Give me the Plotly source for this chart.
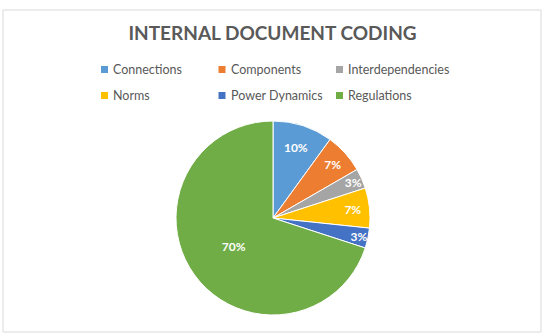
import plotly.graph_objects as go

labels = ["Connections", "Components", "Interdependencies", "Norms", "Power Dynamics", "Regulations"]
counts = [3, 2, 1, 2, 1, 21]
colors = ["#5B9BD5", "#ED7D31", "#A5A5A5", "#FFC000", "#4472C4", "#70AD47"]
title_text = "INTERNAL DOCUMENT CODING"

W, H = 549, 334

def px_x(x):
    return x / W

def px_y(y):
    return 1 - y / H

cx, cy, r = 273, 218, 97

fig = go.Figure(go.Pie(
    labels=labels,
    values=counts,
    marker=dict(colors=colors, line=dict(color="white", width=1)),
    sort=False,
    direction="clockwise",
    rotation=0,
    textposition="inside",
    insidetextorientation="horizontal",
    texttemplate="%{percent:.0%}",
    textfont=dict(color="white", size=12, family="Lato", weight="bold"),
    domain=dict(x=[px_x(cx - r), px_x(cx + r)], y=[px_y(cy + r), px_y(cy - r)]),
    hoverinfo="label+percent",
    showlegend=False,
))

# legend laid out as a 3-column grid (Excel style)
leg_x0, leg_y0 = 101, 69.5
col_w, row_h, sq = 117.5, 26, 7
shapes = [dict(
    type="rect", xref="paper", yref="paper",
    x0=px_x(3), x1=px_x(541), y0=px_y(332), y1=px_y(10),
    line=dict(color="#D9D9D9", width=1), layer="below",
)]
annotations = []
for i, (lab, col) in enumerate(zip(labels, colors)):
    c, rr = i % 3, i // 3
    x = leg_x0 + c * col_w
    y = leg_y0 + rr * row_h
    shapes.append(dict(
        type="rect", xref="paper", yref="paper",
        x0=px_x(x), x1=px_x(x + sq), y0=px_y(y + sq / 2), y1=px_y(y - sq / 2),
        fillcolor=col, line=dict(width=0),
    ))
    annotations.append(dict(
        text=lab, xref="paper", yref="paper",
        x=px_x(x + sq + 3), y=px_y(y), xanchor="left", yanchor="middle",
        showarrow=False, font=dict(size=12.5, color="#595959", family="Lato"),
    ))

fig.update_layout(
    width=W, height=H,
    margin=dict(l=0, r=0, t=0, b=0),
    paper_bgcolor="white",
    plot_bgcolor="white",
    font=dict(family="Lato", color="#595959"),
    uniformtext=dict(minsize=12, mode="show"),
    title=dict(
        text="<b>" + title_text + "</b>",
        xref="container", yref="container",
        x=272.5 / W, y=1 - 33 / H, xanchor="center", yanchor="middle",
        font=dict(size=19, color="#595959", family="Lato"),
    ),
    shapes=shapes,
    annotations=annotations,
)

fig.write_html("out.html")
